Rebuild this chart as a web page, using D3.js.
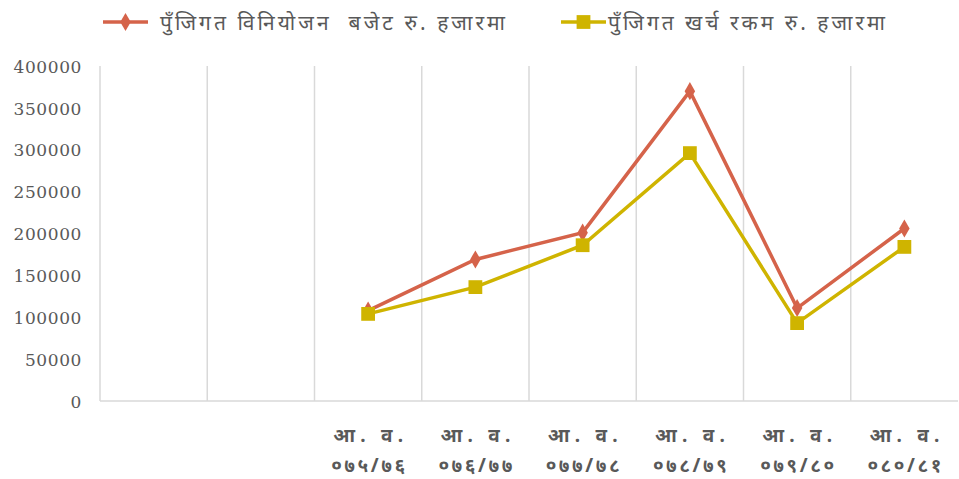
<!DOCTYPE html>
<html>
<head>
<meta charset="utf-8">
<script src="https://cdn.jsdelivr.net/npm/d3@7"></script>
<style>
    body { margin: 0; background: #fff; }
    svg { display: block; }
</style>
</head>
<body>
<div id="wrapper"></div>
<script>
const categories = ["", "", "आ. व.|०७५/७६", "आ. व.|०७६/७७", "आ. व.|०७७/७८", "आ. व.|०७८/७९", "आ. व.|०७९/८०", "आ. व.|०८०/८१"]
const budgetValues = [null, null, 108000, 169000, 201000, 370000, 111000, 206000]
const spentValues = [null, null, 104000, 136000, 186000, 296000, 93000, 184000]
const yTicks = [0, 50000, 100000, 150000, 200000, 250000, 300000, 350000, 400000]
const seriesNames = ["पुँजिगत विनियोजन  बजेट रु. हजारमा", "पुँजिगत खर्च रकम रु. हजारमा"]

function drawChart() {
    let dimensions = {
        width: 959,
        height: 479,
        margin: { top: 66, right: 1, bottom: 78, left: 100 },
    }
    dimensions.boundedWidth = dimensions.width - dimensions.margin.left - dimensions.margin.right
    dimensions.boundedHeight = dimensions.height - dimensions.margin.top - dimensions.margin.bottom

    const wrapper = d3.select("#wrapper")
        .append("svg")
        .attr("width", dimensions.width)
        .attr("height", dimensions.height)

    const bounds = wrapper.append("g")
        .attr("transform", `translate(${dimensions.margin.left},${dimensions.margin.top})`)

    const xScaler = d3.scaleBand()
        .domain(d3.range(categories.length))
        .range([0, dimensions.boundedWidth])

    const yScaler = d3.scaleLinear()
        .domain([0, 400000])
        .range([dimensions.boundedHeight, 0])

    // vertical gridlines between categories
    bounds.append("g")
        .selectAll("line")
        .data(d3.range(1, categories.length))
        .join("line")
        .attr("x1", d => xScaler(d))
        .attr("x2", d => xScaler(d))
        .attr("y1", 0)
        .attr("y2", dimensions.boundedHeight)
        .attr("stroke", "#d9d9d9")
        .attr("stroke-width", 1.5)

    // axes lines
    bounds.append("line")
        .attr("x1", 0).attr("x2", 0)
        .attr("y1", 0).attr("y2", dimensions.boundedHeight)
        .attr("stroke", "#d9d9d9").attr("stroke-width", 1.5)
    bounds.append("line")
        .attr("x1", 0).attr("x2", dimensions.boundedWidth)
        .attr("y1", dimensions.boundedHeight).attr("y2", dimensions.boundedHeight)
        .attr("stroke", "#d9d9d9").attr("stroke-width", 1.5)

    // y axis labels
    const yAxisGen = d3.axisLeft(yScaler)
        .tickValues(yTicks)
        .tickSize(0)
        .tickPadding(18)
        .tickFormat(d3.format("d"))
    const yAxis = bounds.append("g").call(yAxisGen)
    yAxis.select(".domain").remove()
    yAxis.selectAll("text")
        .attr("fill", "#595959")
        .attr("dy", "0.36em")
        .style("font-family", "'DejaVu Serif', serif")
        .style("font-size", "17px")
        .style("letter-spacing", "0.6px")

    // x axis labels (two lines)
    const xLabels = bounds.append("g")
        .selectAll("text")
        .data(categories)
        .join("text")
        .attr("x", (d, i) => xScaler(i) + xScaler.bandwidth() / 2)
        .attr("text-anchor", "middle")
        .attr("fill", "#595959")
        .style("font-weight", "bold")
        .style("font-size", "19px")
        .style("font-family", "'Noto Sans', sans-serif")
    xLabels.selectAll("tspan")
        .data(d => d ? d.split("|") : [])
        .join("tspan")
        .attr("x", function () { return d3.select(this.parentNode).attr("x") })
        .attr("y", (d, i) => dimensions.boundedHeight + 41 + i * 30)
        .attr("textLength", (d, i) => i === 0 ? 70 : 74)
        .attr("lengthAdjust", "spacing")
        .text(d => d)

    const xCenter = (d, i) => xScaler(i) + xScaler.bandwidth() / 2
    const lineGen = d3.line()
        .defined(d => d != null)
        .x(xCenter)
        .y(d => yScaler(d))

    const series = [
        { values: budgetValues, color: "#d5634a", shape: d3.symbolDiamond, size: 95 },
        { values: spentValues, color: "#cfb400", shape: d3.symbolSquare, size: 190 },
    ]

    series.forEach(s => {
        bounds.append("path")
            .datum(s.values)
            .attr("d", lineGen)
            .attr("fill", "none")
            .attr("stroke", s.color)
            .attr("stroke-width", 3.5)
        bounds.append("g")
            .selectAll("path")
            .data(s.values.map((v, i) => ({ v, i })).filter(d => d.v != null))
            .join("path")
            .attr("transform", d => `translate(${xCenter(d.v, d.i)},${yScaler(d.v)})`)
            .attr("d", d3.symbol().type(s.shape).size(s.size))
            .attr("fill", s.color)
    })

    // legend
    const legendPos = [{ x: 103, tx: 160, len: 345 }, { x: 561, tx: 608, len: 277 }]
    const legend = wrapper.append("g")
    series.forEach((s, i) => {
        const g = legend.append("g")
            .attr("transform", `translate(${legendPos[i].x},22)`)
        g.append("line")
            .attr("x1", 0).attr("x2", 45)
            .attr("stroke", s.color).attr("stroke-width", 3.5)
        g.append("path")
            .attr("transform", "translate(22.5,0)")
            .attr("d", d3.symbol().type(s.shape).size(s.size))
            .attr("fill", s.color)
        legend.append("text")
            .attr("x", legendPos[i].tx)
            .attr("y", 30)
            .attr("fill", "#595959")
            .attr("textLength", legendPos[i].len)
            .attr("lengthAdjust", "spacing")
            .style("font-size", "21px")
            .style("font-family", "'Noto Sans', sans-serif")
            .style("white-space", "pre")
            .text(seriesNames[i])
    })
}

drawChart()
</script>
</body>
</html>
